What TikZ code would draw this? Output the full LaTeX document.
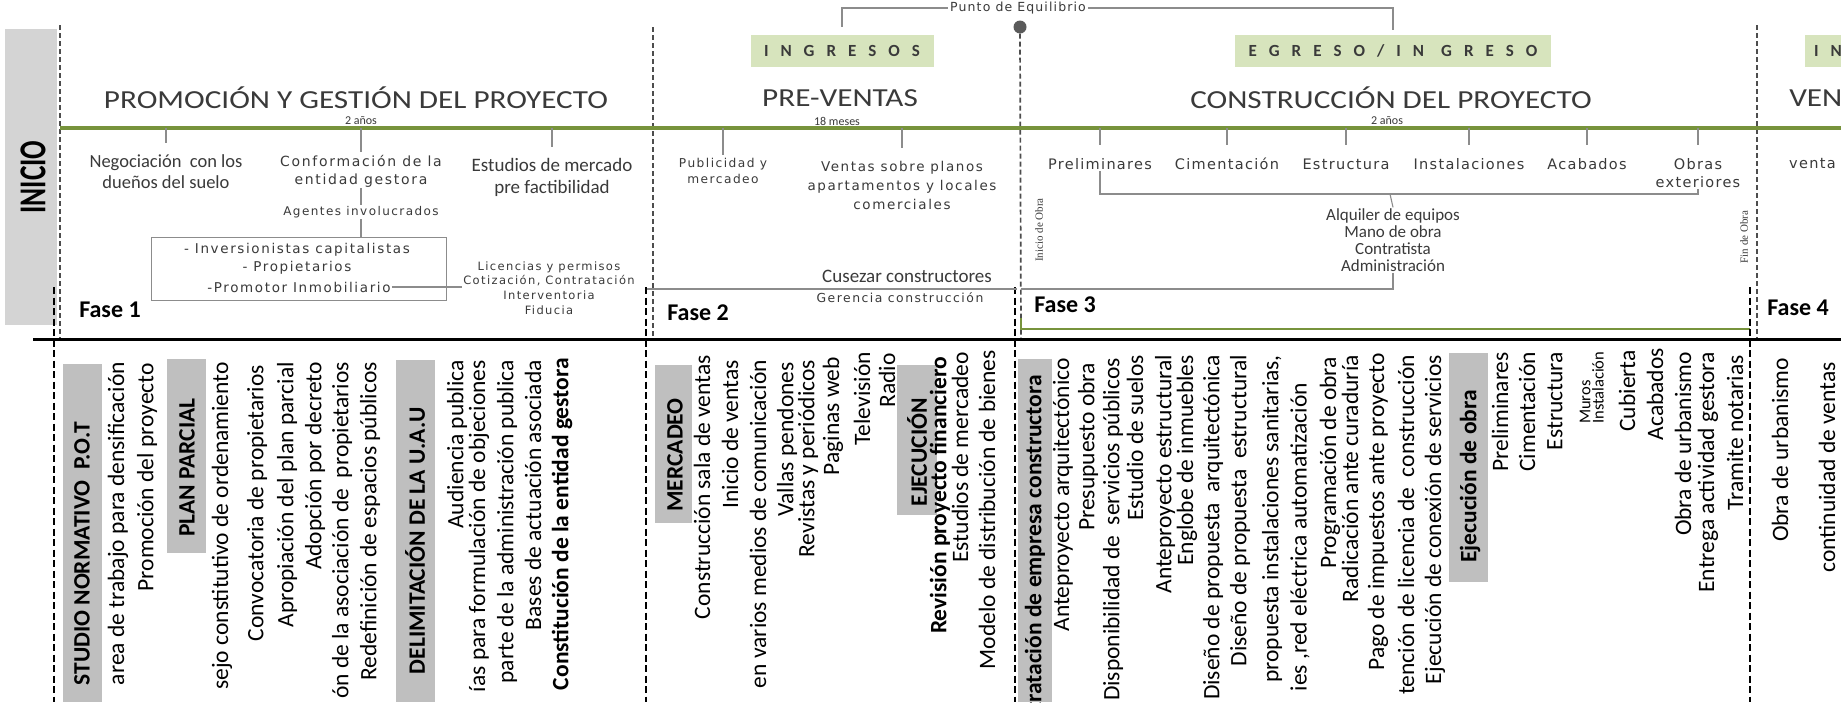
\documentclass[tikz,border=0pt]{standalone}
\usepackage{graphicx}
\usepackage{fontspec}
\setmainfont{Carlito}
\newfontfamily\dvA[LetterSpace=12]{DejaVu Sans}
\newfontfamily\dvB[LetterSpace=9]{DejaVu Sans}
\newfontfamily\srfF{Liberation Serif}
\usetikzlibrary{calc}
\newcommand\myfs[2]{\fontsize{#1}{#2}\selectfont}
\newcommand\kk{\kern12pt}
\definecolor{gline}{HTML}{77933C}
\definecolor{lgreen}{HTML}{D7E4BD}
\definecolor{inigrey}{HTML}{D4D4D4}
\definecolor{boxgrey}{HTML}{BFBFBF}
\definecolor{tgrey}{HTML}{3A3A3A}
\definecolor{lgrey}{HTML}{8C8C8C}
\definecolor{dgrey}{HTML}{4D4D4D}
\definecolor{dotgrey}{HTML}{5A5A5A}
\begin{document}
\begin{tikzpicture}[x=1pt,y=-1pt,
  bt/.style={rotate=90, anchor=east, inner sep=0pt, font=\myfs{23.5}{28}, text=black},
  btb/.style={bt, font=\myfs{23.5}{28}\bfseries},
  btw/.style={bt, anchor=west, font=\myfs{16.5}{18}},
  gb/.style={fill=boxgrey},
  tick/.style={draw=lgrey, line width=1.3pt},
  conn/.style={draw=lgrey, line width=1.1pt},
  septhin/.style={draw=dgrey, line width=1.7pt, dash pattern=on 5pt off 3pt},
  septhick/.style={draw=black, line width=2.6pt, dash pattern=on 7pt off 3.5pt},
  fase/.style={font=\myfs{24}{28}\bfseries, text=black, inner sep=0pt},
  head/.style={font=\myfs{26}{30}, text=tgrey, inner sep=0pt, xscale=1.2},
  dur/.style={font=\myfs{12}{14}, text=tgrey, inner sep=0pt},
  lab/.style={text=tgrey, align=center, inner sep=1pt},
  gtag/.style={fill=lgreen, text=tgrey, font=\myfs{17}{20}\bfseries, inner sep=0pt, minimum height=32pt},
  vsm/.style={rotate=90, font=\srfF\myfs{11}{12}, text=tgrey, inner sep=0pt}
]
\useasboundingbox (0,0) rectangle (1841,702);
\clip (0,0) rectangle (1841,702);
\fill[white] (0,0) rectangle (1841,702);

% ---------- INICIO band
\fill[inigrey] (5,29) rectangle (57,325);
\node[rotate=90, inner sep=0pt, font=\myfs{38}{40}\bfseries, text=black] (inicio) at (33,177) {\scalebox{0.72}[1]{INICIO}};

% ---------- lines
\coordinate (gL) at (60,128);
\coordinate (gR) at (1841,128);
\draw[septhin] (60,25) -- (60,338);
\draw[septhin] (653,27) -- (653,338);
\draw[septhin] (1757,25) -- (1757,338);
\node[circle, fill=dotgrey, minimum size=13pt, inner sep=0pt] (dot) at (1020,27) {};
\draw[septhin] (dot.south) -- (1021,338);
\draw[gline, line width=4pt] (gL) -- (gR);
\draw[gline, line width=2.5pt] (1021,318) |- (1750,329);
\draw[black, line width=3pt] (33,339) -- (1841,339);
\draw[septhick] (54,287) -- (54,702);
\draw[septhick] (646,287) -- (646,702);
\draw[septhick] (1015,287) -- (1015,702);
\draw[septhick] (1750,287) -- (1750,702);

% ---------- Phase 1 top
\node[head] (h1) at (356,98) {PROMOCIÓN Y GESTIÓN DEL PROYECTO};
\node[dur] (d1) at (361,121) {2 años};
\node[lab, font=\myfs{18.5}{21}] (neg) at (166,172) {Negociación\ \ con los\\dueños del suelo};
\node[lab, font=\dvA\myfs{14}{18}] (conf) at (361,171) {Conformación de la\\entidad gestora};
\node[lab, font=\dvA\myfs{12}{15}] (agt) at (361,212) {Agentes involucrados};
\node[draw=lgrey, line width=1pt, minimum width=295pt, minimum height=63pt, inner sep=0pt] (invbox) at (298.5,268.5) {};
\node[lab, font=\dvA\myfs{13.5}{16}] (inv1) at (297,250) {- Inversionistas capitalistas};
\node[lab, font=\dvA\myfs{13.5}{16}] (inv2) at (297,268) {- Propietarios};
\node[lab, font=\dvA\myfs{13.5}{16}] (inv3) at (299,287) {-Promotor Inmobiliario};
\node[lab, font=\dvA\myfs{11.5}{14.7}] (lic) at (549,288) {Licencias y permisos\\Cotización, Contratación\\Interventoria\\Fiducia};
\node[lab, font=\myfs{19}{22}] (est) at (552,177) {Estudios de mercado\\pre factibilidad};
\draw[tick] (neg |- gL) -- ++(0,15);
\draw[tick] (conf |- gL) -- ++(0,24);
\draw[tick] (est |- gL) -- ++(0,19);
\draw[conn] (conf.south) -- (agt.north);
\draw[conn] (agt.south) -- (agt.south |- invbox.north);
\draw[conn] (inv3.east) -- (inv3.east -| lic.west);
\node[fase] (fase1) at (110,310) {Fase 1};

% ---------- Phase 2 top
\node[gtag, minimum width=183pt] (ing1) at (842,51) {I\kk N\kk G\kk R\kk E\kk S\kk O\kk S};
\node[head] (h2) at (840,98) {PRE-VENTAS};
\node[dur] (d2) at (837,121) {18 meses};
\node[lab, font=\dvA\myfs{12.2}{16}] (pub) at (723,171) {Publicidad y\\mercadeo};
\node[lab, font=\dvA\myfs{13.5}{19}] (ven) at (902,185) {Ventas sobre planos\\apartamentos y locales\\comerciales};
\draw[tick] (pub |- gL) -- ++(0,27);
\draw[tick] (ven |- gL) -- ++(0,20);
\node[lab, font=\myfs{19}{22}] (cus) at (907,276) {Cusezar constructores};
\node[lab, font=\dvA\myfs{12.4}{14}] (ger) at (900,298) {Gerencia construcción};
\coordinate (f2a) at (647,289);
\coordinate (f2b) at (1017,289);
\draw[conn] (f2a) -- (f2b);
\node[fase] (fase2) at (698,313) {Fase 2};

% ---------- Punto de equilibrio
\node[font=\dvB\myfs{12.5}{13}, text=tgrey, inner sep=2pt] (pe) at (1018,8) {Punto de Equilibrio};

% ---------- Phase 3 top
\node[gtag, minimum width=316pt] (ing2) at (1393,51) {E\kk G\kk R\kk E\kk S\kk O\kk /\kk I\kk N\kk\kern5pt G\kk R\kk E\kk S\kk O};
\draw[conn] (pe.west) -| ([yshift=8pt]ing1.north);
\draw[conn] (pe.east) -| ([yshift=5pt]ing2.north);
\node[head] (h3) at (1391,98) {CONSTRUCCIÓN DEL PROYECTO};
\node[dur] (d3) at (1387,121) {2 años};
\node[lab, font=\dvB\myfs{14.5}{18}] (pre) at (1100,164) {Preliminares};
\node[lab, font=\dvB\myfs{14.5}{18}] (cim) at (1227,164) {Cimentación};
\node[lab, font=\dvB\myfs{14.5}{18}] (estr) at (1346,164) {Estructura};
\node[lab, font=\dvB\myfs{14.5}{18}] (inst) at (1469,164) {Instalaciones};
\node[lab, font=\dvB\myfs{14.5}{18}] (acab) at (1587,164) {Acabados};
\node[lab, font=\dvB\myfs{14.5}{18}] (obr) at (1698,173) {Obras\\exteriores};
\draw[tick] (pre |- gL) -- ++(0,17);
\draw[tick] (cim |- gL) -- ++(0,17);
\draw[tick] (estr |- gL) -- ++(0,17);
\draw[tick] (inst |- gL) -- ++(0,17);
\draw[tick] (acab |- gL) -- ++(0,17);
\draw[tick] (obr |- gL) -- ++(0,17);
\coordinate (br) at (1390,194);
\draw[conn] (pre.south) |- (br) -| (obr.south);
\node[lab, font=\myfs{17}{17}] (alq) at (1393,240) {Alquiler de equipos\\Mano de obra\\Contratista\\Administración};
\draw[conn] (br) -- (alq.north);
\coordinate (f3a) at (1021,289);
\draw[conn] (alq.south) |- (f3a);
\node[vsm] (ini) at (1039,230) {Inicio de Obra};
\node[vsm] (fin) at (1744,237) {Fin de Obra};
\node[fase] (fase3) at (1065,305) {Fase 3};

% ---------- Phase 4 top
\fill[lgreen] (1805,35) rectangle (1841,67);
\node[anchor=west, inner sep=0pt, font=\myfs{17}{20}\bfseries, text=tgrey] (ing3) at (1814,51) {I\kk N};
\node[head, anchor=west] (h4) at (1789,98) {VEN};
\node[lab, font=\dvB\myfs{14.5}{18}, anchor=west, inner sep=0pt] (v4) at (1789,164) {venta};
\node[fase] (fase4) at (1798,308) {Fase 4};

% ---------- bottom grey boxes
\fill[gb] (63,364) rectangle (102,702);
\fill[gb] (167,359) rectangle (206,553);
\fill[gb] (396,360) rectangle (435,702);
\fill[gb] (655,365) rectangle (692,523);
\fill[gb] (897,365) rectangle (937,515);
\fill[gb] (1018,359) rectangle (1052,702);
\fill[gb] (1449,353) rectangle (1488,582);

% ---------- bottom texts phase 1
\node[btb] (b1) at (82,422) {STUDIO NORMATIVO\ \ P.O.T};
\node[bt] (b2) at (118,362) {area de trabajo para densificación};
\node[bt] (b3) at (147,363) {Promoción del proyecto};
\node[btb] (b4) at (187,398) {PLAN PARCIAL};
\node[bt] (b5) at (222,362) {sejo constitutivo de ordenamiento};
\node[bt] (b6) at (257,365) {Convocatoria de propietarios};
\node[bt] (b7) at (287,362) {Apropiación del plan parcial};
\node[bt] (b8) at (315,362) {Adopción por decreto};
\node[bt] (b9) at (342,362) {ón de la asociación de\ \ propietarios};
\node[bt] (b10) at (370,362) {Redefinición de espacios públicos};
\node[btb] (b11) at (415,407) {DELIMITACIÓN DE LA U.A.U};
\node[bt] (b12) at (457,360) {Audiencia publica};
\node[bt] (b13) at (479,360) {ías para formulación de objeciones};
\node[bt] (b14) at (507,360) {parte de la administración publica};
\node[bt] (b15) at (533,360) {Bases de actuación asociada};
\node[btb] (b16) at (562,358) {Constitución de la entidad gestora};

% ---------- bottom texts phase 2
\node[btb] (c1) at (675,398) {MERCADEO};
\node[bt] (c2) at (702,355) {Construcción sala de ventas};
\node[bt] (c3) at (730,360) {Inicio de ventas};
\node[bt] (c4) at (758,360) {en varios medios de comunicación};
\node[bt] (c5) at (787,362) {Vallas pendones};
\node[bt] (c6) at (808,360) {Revistas y periódicos};
\node[bt] (c7) at (833,357) {Paginas web};
\node[bt] (c8) at (862,352) {Televisión};
\node[bt] (c9) at (887,353) {Radio};
\node[btb] (c10) at (917,398) {EJECUCIÓN};
\node[btb] (c11) at (940,357) {Revisión proyecto financiero};
\node[bt] (c12) at (960,352) {Estudios de mercadeo};
\node[bt] (c13) at (987,350) {Modelo de distribución de bienes};

% ---------- bottom texts phase 3
\node[btb] (e1) at (1035,375) {tratación de empresa constructora};
\node[bt] (e2) at (1063,358) {Anteproyecto arquitectónico};
\node[bt] (e3) at (1088,363) {Presupuesto obra};
\node[bt] (e4) at (1113,358) {Disponibilidad de\ \ servicios públicos};
\node[bt] (e5) at (1135,355) {Estudio de suelos};
\node[bt] (e6) at (1165,355) {Anteproyecto estructural};
\node[bt] (e7) at (1187,355) {Englobe de inmuebles};
\node[bt] (e8) at (1213,355) {Diseño de propuesta\ \ arquitectónica};
\node[bt] (e9) at (1240,355) {Diseño de propuesta\ \ estructural};
\node[bt] (e10) at (1272,355) {propuesta instalaciones sanitarias,};
\node[bt] (e11) at (1300,383) {ies ,red eléctrica automatización};
\node[bt] (e12) at (1330,357) {Programación de obra};
\node[bt] (e13) at (1350,355) {Radicación ante curaduría};
\node[bt] (e14) at (1378,353) {Pago de impuestos ante proyecto};
\node[bt] (e15) at (1406,355) {tención de licencia de\ \ construcción};
\node[bt] (e16) at (1435,355) {Ejecución de conexión de servicios};
\node[btb] (e17) at (1470,390) {Ejecución de obra};
\node[bt] (e18) at (1500,352) {Preliminares};
\node[bt] (e19) at (1527,352) {Cimentación};
\node[bt] (e20) at (1555,352) {Estructura};
\node[btw] (e21) at (1585,424) {Muros};
\node[btw] (e22) at (1598,424) {Instalación};
\node[bt] (e23) at (1627,350) {Cubierta};
\node[bt] (e24) at (1655,348) {Acabados};
\node[bt] (e25) at (1683,352) {Obra de urbanismo};
\node[bt] (e26) at (1708,352) {Entrega actividad gestora};
\node[bt] (e27) at (1735,355) {Tramite notarias};

% ---------- bottom texts phase 4
\node[bt] (g1) at (1780,358) {Obra de urbanismo};
\node[bt] (g2) at (1827,362) {continuidad de ventas};
\end{tikzpicture}
\end{document}
